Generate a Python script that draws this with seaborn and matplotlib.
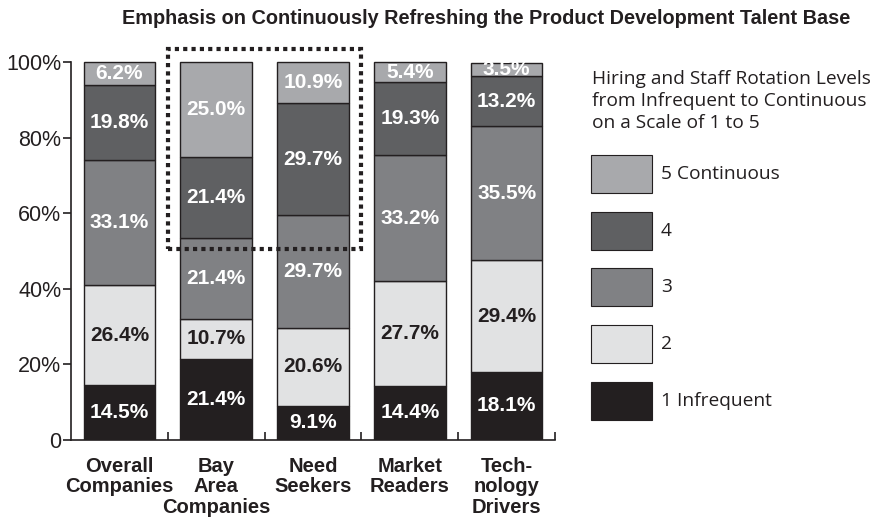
import matplotlib
matplotlib.use("Agg")
import matplotlib.pyplot as plt
from matplotlib.patches import Rectangle
import seaborn as sns
import pandas as pd
import numpy as np

categories = ["Overall\nCompanies", "Bay\nArea\nCompanies", "Need\nSeekers", "Market\nReaders", "Tech-\nnology\nDrivers"]
levels = ["1 Infrequent", "2", "3", "4", "5 Continuous"]
level1 = [14.5, 21.4, 9.1, 14.4, 18.1]
level2 = [26.4, 10.7, 20.6, 27.7, 29.4]
level3 = [33.1, 21.4, 29.7, 33.2, 35.5]
level4 = [19.8, 21.4, 29.7, 19.3, 13.2]
level5 = [6.2, 25.0, 10.9, 5.4, 3.5]
series = [level1, level2, level3, level4, level5]
colors = ["#231f20", "#e1e2e3", "#808184", "#5f6062", "#a8a9ac"]
text_colors = ["white", "#231f20", "white", "white", "white"]
yticks = [0, 20, 40, 60, 80, 100]
ytick_labels = ["0", "20%", "40%", "60%", "80%", "100%"]
title = "Emphasis on Continuously Refreshing the Product Development Talent Base"
legend_title = "Hiring and Staff Rotation Levels\nfrom Infrequent to Continuous\non a Scale of 1 to 5"

sns.set_theme(style="white")
plt.rcParams["font.family"] = ["Liberation Sans", "DejaVu Sans"]

W, H = 874, 520
fig = plt.figure(figsize=(W / 100, H / 100), dpi=100)
ax_left, ax_right, ax_bottom_px, ax_top_px = 71, 555, 440, 43
ax = fig.add_axes([ax_left / W, (H - ax_bottom_px) / H, (ax_right - ax_left) / W, (ax_bottom_px - ax_top_px) / H])

bottoms = np.zeros(len(categories))
for vals, col, tcol in zip(series, colors, text_colors):
    df = pd.DataFrame({"cat": categories, "val": vals})
    sns.barplot(data=df, x="cat", y="val", order=categories, color=col, saturation=1,
                width=0.74, bottom=bottoms, edgecolor="#231f20", linewidth=1.0,
                errorbar=None, ax=ax)
    for i, v in enumerate(vals):
        ax.text(i, bottoms[i] + v / 2, f"{v:.1f}%", ha="center", va="center",
                color=tcol, fontsize=15, fontweight="bold", zorder=5)
    bottoms = bottoms + np.array(vals)

ax.set_xlim(-0.5, 4.5)
ax.set_ylim(0, 100 * (ax_bottom_px - ax_top_px) / (440 - 62))
ax.set_xlabel("")
ax.set_ylabel("")

for s in ["top", "right"]:
    ax.spines[s].set_visible(False)
ax.spines["left"].set_bounds(0, 100)
ax.spines["left"].set_color("#231f20")
ax.spines["bottom"].set_color("#231f20")
ax.spines["left"].set_linewidth(1.2)
ax.spines["bottom"].set_linewidth(1.2)

ax.set_yticks(yticks)
ax.set_yticklabels(ytick_labels, fontsize=15.5, color="#231f20")
ax.tick_params(axis="y", which="major", direction="out", length=6, width=1.2, color="#231f20", left=True, pad=1)

ax.set_xticks(range(len(categories)))
ax.set_xticklabels(categories, fontsize=14.5, fontweight="bold", color="#231f20", linespacing=1.12, va="top")
ax.tick_params(axis="x", which="major", length=0, pad=12)
ax.set_xticks([0.5, 1.5, 2.5, 3.5, 4.5], minor=True)
ax.tick_params(axis="x", which="minor", direction="in", length=6, width=1.2, color="#231f20", bottom=True)

# dotted highlight box around upper part of Bay Area and Need Seekers
ax.add_patch(Rectangle((0.5, 50.5), 2.0, 53.0, fill=False, edgecolor="#231f20",
                       linestyle=(0, (1, 1)), linewidth=3, clip_on=False, zorder=6))

fig.text(486 / W, 1 - 19 / H, title, ha="center", va="center", fontsize=14.3,
         fontweight="bold", color="#231f20")

# legend
fig.text(592 / W, 1 - 101 / H, legend_title, ha="left", va="center", fontsize=13.8,
         family=["Open Sans", "DejaVu Sans"], color="#231f20", linespacing=1.25)
ys = [174, 231, 287, 344, 401]
for lab, col, yc in zip(levels[::-1], colors[::-1], ys):
    fig.add_artist(Rectangle((591 / W, 1 - (yc + 19) / H), 61 / W, 38 / H,
                             facecolor=col, edgecolor="#231f20", linewidth=0.8,
                             transform=fig.transFigure))
    fig.text(661 / W, 1 - yc / H, lab, ha="left", va="center", fontsize=13.8,
             family=["Open Sans", "DejaVu Sans"], color="#231f20")

fig.savefig("out.png", dpi=100)
